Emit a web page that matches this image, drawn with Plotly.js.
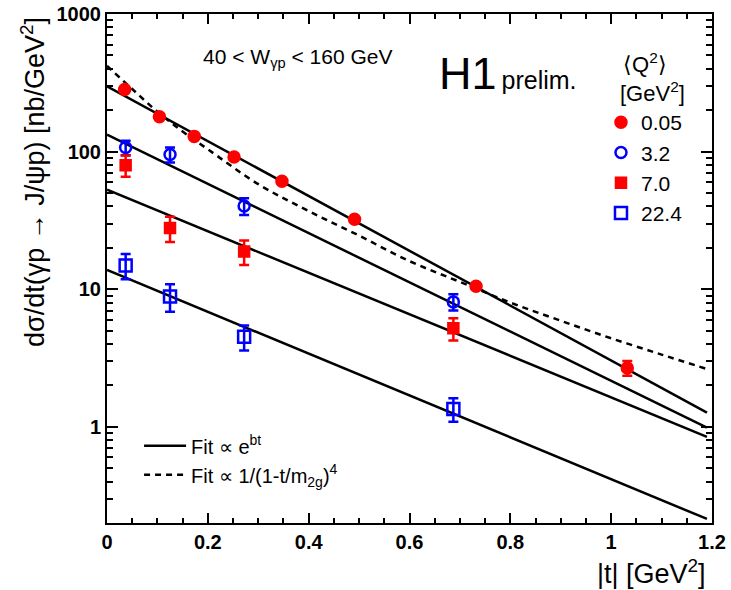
<!DOCTYPE html>
<html>
<head>
<meta charset="utf-8">
<script src="https://cdn.plot.ly/plotly-3.0.1.min.js"></script>
<style>html,body{margin:0;padding:0;background:#fff;}#chart{width:731px;height:590px;}</style>
</head>
<body>
<div id="chart"></div>
<script>
// |t| values [GeV^2] and cross sections [nb/GeV^2]
const tQ005 = [0.035, 0.104, 0.173, 0.252, 0.347, 0.491, 0.732, 1.032];
const sQ005 = [283, 179, 129, 91.5, 60.9, 32.2, 10.5, 2.68];
const eQ005 = [8, 5, 4, 3, 2, 1, 0.35, 0.33];

const tQ32 = [0.037, 0.125, 0.272, 0.687];
const sQ32 = [107, 95.3, 40.2, 8.09];
const eQ32 = [13, 12, 5.6, 1.1];

const tQ70 = [0.037, 0.125, 0.272, 0.687];
const sQ70 = [79.6, 27.8, 18.8, 5.2];
const eQ70 = [14, 5.8, 3.8, 0.96];

const tQ224 = [0.037, 0.125, 0.272, 0.687];
const sQ224 = [14.9, 8.85, 4.52, 1.35];
const eQ224 = [3.1, 2.0, 0.93, 0.26];

// exponential fits (read at the two ends)
const fitT = [0, 1.19];
const fit005 = [298, 1.27];
const fit32 = [133, 0.986];
const fit70 = [52.9, 0.845];
const fit224 = [13.8, 0.214];

// dipole-type fit for Q2=0.05
const dipT = [0, 0.05, 0.1, 0.15, 0.2, 0.3, 0.4, 0.5, 0.6, 0.7, 0.8, 0.9, 1.0, 1.1, 1.19];
const dipS = [420, 285, 195, 140, 104, 58, 37, 24.5, 16, 11.3, 8.0, 5.9, 4.4, 3.35, 2.63];

const labels = ['0.05', '3.2', '7.0', '22.4'];

const FONT = 'Liberation Sans, Arial, Helvetica, sans-serif';
const RED = '#ff0000', BLUE = '#0000ff';

function fitTrace(y, show) {
  return {x: fitT, y: y, type: 'scatter', mode: 'lines',
    line: {color: 'black', width: 2.5}, name: 'Fit ∝ e<sup>bt</sup>',
    legend: 'legend2', showlegend: show, hoverinfo: 'skip'};
}
function dataTrace(x, y, e, sym, col, size, name) {
  return {x: x, y: y, type: 'scatter', mode: 'markers', name: name,
    marker: {symbol: sym, color: col, size: size, line: {color: col, width: 2.5}},
    error_y: {type: 'data', array: e, visible: true, color: col, thickness: 2.5, width: 5},
    legend: 'legend'};
}

const traces = [
  fitTrace(fit005, true), fitTrace(fit32, false), fitTrace(fit70, false), fitTrace(fit224, false),
  {x: dipT, y: dipS, type: 'scatter', mode: 'lines', line: {color: 'black', width: 2.5, dash: '6px,5px', shape: 'spline'},
   name: 'Fit ∝ 1/(1-t/m<sub>2g</sub>)<sup>4</sup>', legend: 'legend2', hoverinfo: 'skip'},
  dataTrace(tQ005, sQ005, eQ005, 'circle', RED, 11, labels[0]),
  dataTrace(tQ32, sQ32, eQ32, 'circle-open', BLUE, 11, labels[1]),
  dataTrace(tQ70, sQ70, eQ70, 'square', RED, 10, labels[2]),
  dataTrace(tQ224, sQ224, eQ224, 'square-open', BLUE, 12, labels[3])
];

const axisCommon = {
  showline: true, linewidth: 2, linecolor: 'black', mirror: 'allticks',
  ticks: 'inside', tickwidth: 2, tickcolor: 'black', showgrid: false, zeroline: false,
  tickfont: {family: FONT, size: 20, color: 'black', weight: 'bold'}
};

const layout = {
  width: 731, height: 590,
  margin: {l: 107, r: 19, t: 14, b: 67},
  paper_bgcolor: 'white', plot_bgcolor: 'white',
  font: {family: FONT, color: 'black'},
  xaxis: Object.assign({}, axisCommon, {
    range: [0, 1.2], tick0: 0, dtick: 0.2, ticklen: 10,
    minor: {dtick: 0.05, ticks: 'inside', ticklen: 5, tickwidth: 2, tickcolor: 'black', showgrid: false}
  }),
  yaxis: Object.assign({}, axisCommon, {
    type: 'log', range: [Math.log10(0.2), 3], dtick: 1, ticklen: 11, exponentformat: 'none',
    minor: {ticks: 'inside', ticklen: 6, tickwidth: 2, tickcolor: 'black', showgrid: false}
  }),
  showlegend: true,
  legend: {
    x: 0.8165, y: 0.827, xanchor: 'left', yanchor: 'top',
    bgcolor: 'rgba(0,0,0,0)', font: {family: FONT, size: 21, color: 'black'},
    tracegroupgap: 0
  },
  legend2: {
    x: 0.053, y: 0.19, xanchor: 'left', yanchor: 'top', itemwidth: 42,
    bgcolor: 'rgba(0,0,0,0)', font: {family: FONT, size: 20, color: 'black'}
  },
  annotations: [
    {text: 'dσ/dt(γp → J/ψp) [nb/GeV<sup>2</sup>]', xref: 'paper', yref: 'paper',
     x: -0.1223, y: 0.998, xanchor: 'center', yanchor: 'top', textangle: -90, showarrow: false,
     font: {family: FONT, size: 27, color: 'black'}},
    {text: '|t| [GeV<sup>2</sup>]', xref: 'paper', yref: 'paper', x: 0.9934, y: -0.096,
     xanchor: 'right', yanchor: 'middle', showarrow: false, font: {family: FONT, size: 27, color: 'black'}},
    {text: '40 &lt; W<sub>γp</sub> &lt; 160 GeV', xref: 'paper', yref: 'paper', x: 0.3155, y: 0.9136,
     xanchor: 'center', yanchor: 'middle', showarrow: false, font: {family: FONT, size: 21, color: 'black'}},
    {text: 'H1<span style="font-size:25px">&#8201;prelim.</span>', xref: 'paper', yref: 'paper', x: 0.5455, y: 0.884,
     xanchor: 'left', yanchor: 'middle', showarrow: false, font: {family: FONT, size: 45, color: 'black'}},
    {text: '⟨Q<sup>2</sup>⟩', xref: 'paper', yref: 'paper', x: 0.889, y: 0.9037,
     xanchor: 'center', yanchor: 'middle', showarrow: false, font: {family: FONT, size: 22, color: 'black'}},
    {text: '[GeV<sup>2</sup>]', xref: 'paper', yref: 'paper', x: 0.902, y: 0.8468,
     xanchor: 'center', yanchor: 'middle', showarrow: false, font: {family: FONT, size: 22, color: 'black'}}
  ]
};

Plotly.newPlot('chart', traces, layout, {displayModeBar: false, staticPlot: true});
</script>
</body>
</html>
